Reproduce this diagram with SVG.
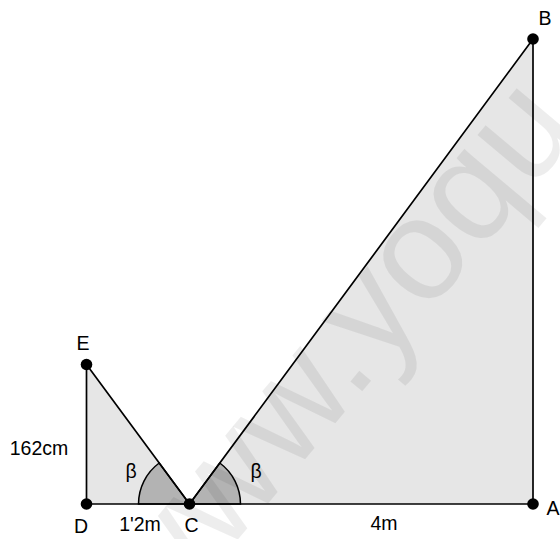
<svg xmlns="http://www.w3.org/2000/svg" width="560" height="539" viewBox="0 0 560 539">
<style>
.fill{fill:#e6e6e6;stroke:none}
.sector{fill:#b3b3b3;stroke:#000;stroke-width:1.5}
.edge{stroke:#000;stroke-width:1.7;fill:none;stroke-linecap:round}
.dot{fill:#000}
.lbl{font-family:"Liberation Sans",Arial,sans-serif;font-size:19.5px;fill:#000;text-anchor:middle}
.wm{font-family:"Liberation Sans",Arial,sans-serif;font-size:145px;fill:#000;fill-opacity:0.07}
</style>
<rect width="560" height="539" fill="#fff"/>
<g id="shapes">
<polygon class="fill" points="86.5,364.5 86.5,504 189.5,504"/>
<polygon class="fill" points="189.5,504 533,504 533,39"/>
<path class="sector" d="M189.5,504 L138.5,504 A51,51 0 0,1 159.2,463 Z"/>
<path class="sector" d="M189.5,504 L240.5,504 A51,51 0 0,0 219.8,463 Z"/>
</g>
<g id="connectors">
<line class="edge" x1="86.5" y1="364.5" x2="86.5" y2="504"/>
<line class="edge" x1="86.5" y1="504" x2="533" y2="504"/>
<line class="edge" x1="86.5" y1="364.5" x2="189.5" y2="504"/>
<line class="edge" x1="189.5" y1="504" x2="533" y2="39"/>
<line class="edge" x1="533" y1="39" x2="533" y2="504"/>
</g>
<g id="node-A"><circle class="dot" cx="533" cy="504" r="5.8"/><text class="lbl" x="553" y="515">A</text></g>
<g id="node-B"><circle class="dot" cx="533" cy="39" r="5.8"/><text class="lbl" x="545" y="25">B</text></g>
<g id="node-C"><circle class="dot" cx="189.5" cy="504" r="5.8"/><text class="lbl" x="191.5" y="532">C</text></g>
<g id="node-D"><circle class="dot" cx="86.5" cy="504" r="5.8"/><text class="lbl" x="81" y="533">D</text></g>
<g id="node-E"><circle class="dot" cx="86.5" cy="364.5" r="5.8"/><text class="lbl" x="83" y="350">E</text></g>
<g id="labels">
<text class="lbl" x="39" y="455">162cm</text>
<text class="lbl" x="140" y="531">1'2m</text>
<text class="lbl" x="384" y="530">4m</text>
<text class="lbl" x="131" y="478">β</text>
<text class="lbl" x="256" y="478">β</text>
</g>
<text class="wm" transform="translate(157,636) rotate(-50)">www.yoqu</text>
</svg>
